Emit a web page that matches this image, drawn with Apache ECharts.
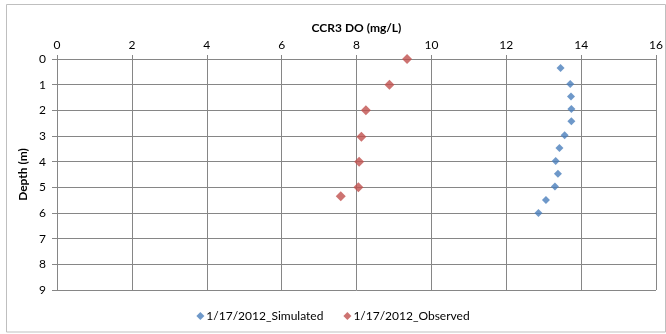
<!DOCTYPE html>
<html>
<head>
<meta charset="utf-8">
<script src="https://cdn.jsdelivr.net/npm/echarts@6/dist/echarts.min.js"></script>
<style>html,body{margin:0;padding:0;background:#fff}#c{width:666px;height:334px}</style>
</head>
<body>
<div id="c"></div>
<script>
const chartTitle = 'CCR3 DO (mg/L)';
const yName = 'Depth (m)';
const seriesNames = ['1/17/2012_Simulated', '1/17/2012_Observed'];
const simDO = [13.45, 13.71, 13.73, 13.74, 13.74, 13.56, 13.42, 13.32, 13.38, 13.30, 13.06, 12.86];
const simDepth = [0.35, 0.97, 1.46, 1.95, 2.43, 2.97, 3.47, 3.97, 4.47, 4.97, 5.49, 6.0];
const obsDO = [9.35, 8.88, 8.25, 8.13, 8.07, 8.05, 7.58];
const obsDepth = [0.0, 1.0, 2.0, 3.03, 4.0, 5.0, 5.35];

const font = 'Lato, "Noto Sans", sans-serif';
const grid = '#868686';
const chart = echarts.init(document.getElementById('c'));
chart.setOption({
  animation: false,
  textStyle: {fontFamily: font},
  graphic: [{type: 'rect', shape: {x: 6.5, y: 4.5, width: 659, height: 327.5},
    style: {fill: 'none', stroke: '#bfbfbf', lineWidth: 1}, silent: true}],
  grid: {left: 57, right: 10, top: 59, bottom: 44},
  xAxis: {
    type: 'value', position: 'top', min: 0, max: 16, interval: 2,
    name: chartTitle, nameLocation: 'middle', nameGap: 25, nameMoveOverlap: false,
    nameTextStyle: {fontFamily: font, fontWeight: 'bold', fontSize: 12, color: '#000'},
    axisLine: {show: true, lineStyle: {color: grid}},
    axisTick: {show: true, length: 4, lineStyle: {color: grid}},
    axisLabel: {color: '#000', fontSize: 12, margin: 8, fontFamily: font},
    splitLine: {show: true, lineStyle: {color: grid}}
  },
  yAxis: {
    type: 'value', inverse: true, min: 0, max: 9, interval: 1,
    name: yName, nameLocation: 'middle', nameGap: 28, nameRotate: 90, nameMoveOverlap: false,
    nameTextStyle: {fontFamily: font, fontWeight: 'bold', fontSize: 12, color: '#000'},
    axisLine: {show: true, lineStyle: {color: grid}},
    axisTick: {show: true, length: 5, lineStyle: {color: grid}},
    axisLabel: {color: '#000', fontSize: 12, margin: 11, fontFamily: font},
    splitLine: {show: true, lineStyle: {color: grid}}
  },
  legend: {
    bottom: 7, left: 'center', itemWidth: 8, itemHeight: 8, itemGap: 20,
    icon: 'diamond',
    textStyle: {fontSize: 12, color: '#000', fontFamily: font, padding: [0, 0, 0, -3]},
    data: seriesNames
  },
  series: [
    {name: seriesNames[0], type: 'scatter', symbol: 'diamond', symbolSize: 8,
     itemStyle: {color: '#4a7ebb'},
     data: simDO.map((v, i) => [v, simDepth[i]])},
    {name: seriesNames[1], type: 'scatter', symbol: 'diamond', symbolSize: 10,
     itemStyle: {color: '#c0504d'},
     data: obsDO.map((v, i) => [v, obsDepth[i]])}
  ]
});
</script>
</body>
</html>
